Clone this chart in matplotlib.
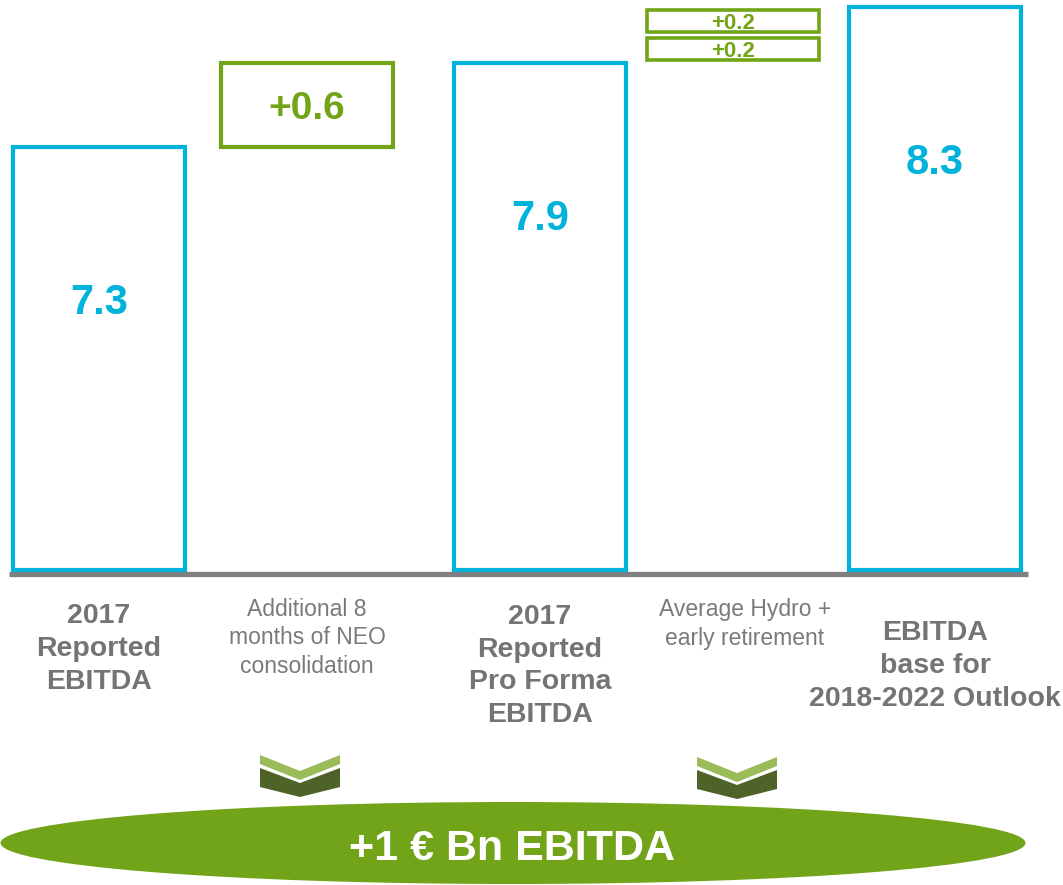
import matplotlib
matplotlib.use("Agg")
import matplotlib.pyplot as plt
from matplotlib.patches import Ellipse, Polygon
import numpy as np

plt.rcParams['font.family'] = ['Liberation Sans', 'DejaVu Sans']

# ---------------- data ----------------
categories = ["2017\nReported\nEBITDA",
              "Additional 8\nmonths of NEO\nconsolidation",
              "2017\nReported\nPro Forma\nEBITDA",
              "Average Hydro +\nearly retirement",
              "EBITDA\nbase for\n2018-2022 Outlook"]
totals = {0: 7.3, 2: 7.9, 4: 8.3}          # full bars
increments = {1: [0.6], 3: [0.2, 0.2]}      # floating steps
summary_text = "+1 € Bn EBITDA"

# ---------------- layout / style ----------------
W, H = 1063, 885
x_pos = [99, 307, 540, 733, 935]            # bar centres (px units on x axis)
label_x = [99, 307, 540, 745, 935]
label_y = [649, 638, 666, 624, 666]
bold_label = [True, False, True, False, True]
bar_w = 172
CYAN = '#00B3DA'
GREEN = '#72A418'
GRAY = '#7A7A7A'
ELL = '#72A419'
LIGHT = '#9BBB59'
DARK = '#4F6228'

fig = plt.figure(figsize=(W / 100, H / 100), dpi=100)

# overlay axes in pixel coordinates for decorations and labels
ov = fig.add_axes([0, 0, 1, 1], zorder=0)
ov.set_xlim(0, W)
ov.set_ylim(H, 0)
ov.axis('off')

# main data axes
base_px = 574
ax = fig.add_axes([0, (H - base_px) / H, 1, base_px / H], zorder=1)
ax.patch.set_alpha(0)
ymin = 4.25
k = 140.0  # px per unit
ax.set_ylim(ymin, ymin + base_px / k)
ax.set_xlim(0, W)
ax.axis('off')

# baseline
ax.axhline(ymin, xmin=9 / W, xmax=1028 / W, color='#7F7F7F', lw=3.8,
           solid_capstyle='butt', clip_on=False, zorder=1)

lift = 0.03
for i, v in totals.items():
    ax.bar(x_pos[i], v - ymin - lift, bottom=ymin + lift, width=bar_w,
           facecolor='none', edgecolor=CYAN, linewidth=3.0, zorder=2)
    ax.annotate(f"{v:.1f}", xy=(x_pos[i], v), xytext=(0, -112),
                textcoords='offset points', ha='center', va='center',
                fontsize=30, fontweight='bold', color=CYAN)

# floating increments
running = {1: totals[0], 3: totals[2]}
for i, steps in increments.items():
    start = running[i]
    n = len(steps)
    for s in steps:
        gap = 0.0 if n == 1 else 0.02
        ax.bar(x_pos[i], s - 2 * gap, bottom=start + gap, width=bar_w,
               facecolor='none', edgecolor=GREEN,
               linewidth=3.0 if n == 1 else 2.6, zorder=2)
        ax.text(x_pos[i], start + s / 2, f"+{s:.1f}", ha='center',
                va='center_baseline', fontsize=28 if n == 1 else 16,
                fontweight='bold', color=GREEN)
        start += s

# category labels
for lx, ly, lab, b in zip(label_x, label_y, categories, bold_label):
    ov.text(lx, ly, lab, ha='center', va='center',
            fontsize=20.5 if b else 16.5,
            fontweight='bold' if b else 'normal',
            color='#747474' if b else GRAY, linespacing=1.33 if b else 1.32)

# chevrons
def chevron(cx, top):
    light = [(-40, 0), (0, 16), (40, 0), (40, 9), (0, 25), (-40, 9)]
    dark = [(-40, 13), (0, 28), (40, 13), (40, 32), (0, 42), (-40, 32)]
    ov.add_patch(Polygon([(cx + a, top + b) for a, b in light],
                         closed=True, facecolor=LIGHT, edgecolor='none'))
    ov.add_patch(Polygon([(cx + a, top + b) for a, b in dark],
                         closed=True, facecolor=DARK, edgecolor='none'))

chevron(300, 755)
chevron(737, 757)

# summary ellipse
ov.add_patch(Ellipse((513, 843), 1025, 82, facecolor=ELL, edgecolor='none'))
ov.text(512, 849, summary_text, ha='center', va='center', fontsize=31,
        fontweight='bold', color='white')

fig.savefig('out.png', dpi=100)
